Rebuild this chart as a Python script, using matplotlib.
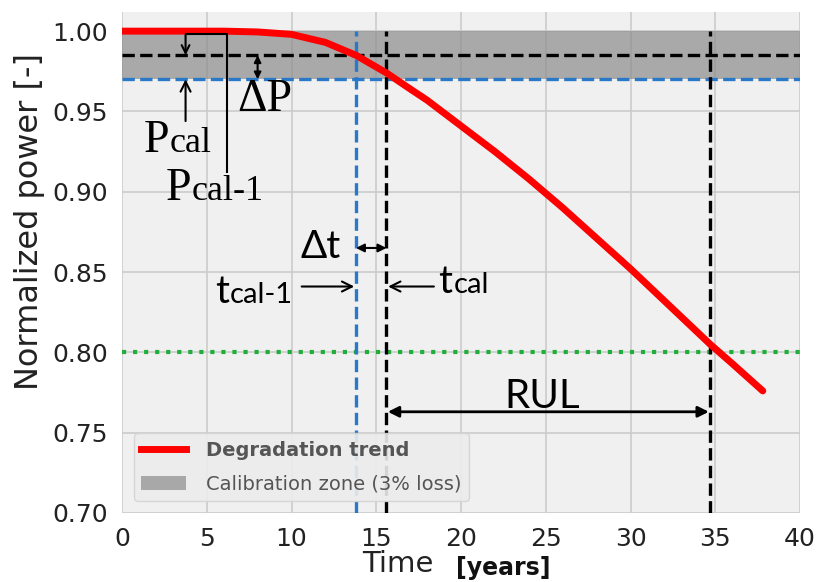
import numpy as np
import matplotlib
matplotlib.use("Agg")
import matplotlib.pyplot as plt
from matplotlib.lines import Line2D
from matplotlib.patches import Patch

# degradation trend
years = [0, 2, 4, 6, 8, 10, 12, 13.8, 15.6, 17, 18, 20, 22, 24, 25, 26, 28, 30, 32, 34.7, 36, 37.8]
power = [1.000, 1.000, 1.000, 1.000, 0.9995, 0.998, 0.993, 0.985, 0.974, 0.964, 0.957, 0.941,
         0.925, 0.908, 0.899, 0.890, 0.871, 0.852, 0.832, 0.805, 0.793, 0.776]

# reference levels / times
zone = [0.97, 1.00]          # calibration zone (3% loss)
p_cal = 0.97
p_cal_prev = 0.985
p_eol = 0.80
t_cal_prev = 13.8
t_cal = 15.6
t_eol = 34.7

xticks = [0, 5, 10, 15, 20, 25, 30, 35, 40]
yticks = [0.70, 0.75, 0.80, 0.85, 0.90, 0.95, 1.00]

serif = ["Liberation Serif", "DejaVu Serif"]
sans = ["Lato", "DejaVu Sans"]

fig = plt.figure(figsize=(8.16, 5.82), dpi=100)
ax = fig.add_axes([0.1495, 0.1186, 0.831, 0.861])
ax.set_facecolor("#f0f0f0")
for s in ax.spines.values():
    s.set_visible(False)
ax.grid(True, color="#cbcbcb", lw=1.2)
ax.set_axisbelow(True)

ax.axhspan(zone[0], zone[1], color="#8c8c8c", alpha=0.7, lw=0, zorder=1)
ax.plot(years, power, color="red", lw=5, solid_capstyle="round", zorder=4)

ax.axhline(p_cal_prev, color="black", ls="--", lw=2.4, zorder=3)
ax.axhline(p_cal, color="#2a78c8", ls="--", lw=2.4, zorder=3)
ax.axhline(p_eol, color="#1fae3a", ls=":", lw=3, zorder=3)
ax.vlines(t_cal_prev, 0.70, 1.0, color="#2a78c8", ls="--", lw=2.4, zorder=3)
ax.vlines([t_cal, t_eol], 0.70, 1.0, color="black", ls="--", lw=2.4, zorder=3)

ax.set_xlim(0, 40)
ax.set_ylim(0.70, 1.012)
ax.set_xticks(xticks)
ax.set_yticks(yticks)
ax.set_yticklabels(["%.2f" % v for v in yticks])
ax.tick_params(length=0, labelsize=18, pad=10, labelcolor="#222222")

# arrows
thin = dict(color="black", lw=1.5)
ax.annotate("", xy=(8.0, p_cal), xytext=(8.0, p_cal_prev),
            arrowprops=dict(arrowstyle="<|-|>", mutation_scale=10, shrinkA=0, shrinkB=0, **thin))
ax.annotate("", xy=(3.75, p_cal), xytext=(3.75, 0.944),
            arrowprops=dict(arrowstyle="->", mutation_scale=18, shrinkA=0, shrinkB=0, **thin))
ax.plot([6.2, 6.2, 3.75], [0.912, 0.9985, 0.9985], color="black", lw=1.5, zorder=5)
ax.annotate("", xy=(3.75, p_cal_prev), xytext=(3.75, 0.9985),
            arrowprops=dict(arrowstyle="->", mutation_scale=14, shrinkA=0, shrinkB=0, **thin))
ax.annotate("", xy=(t_cal_prev, 0.865), xytext=(t_cal, 0.865),
            arrowprops=dict(arrowstyle="<|-|>", mutation_scale=12, shrinkA=0, shrinkB=0, **thin))
ax.annotate("", xy=(t_cal_prev - 0.1, 0.841), xytext=(10.6, 0.841),
            arrowprops=dict(arrowstyle="->", mutation_scale=18, shrinkA=0, shrinkB=0, **thin))
ax.annotate("", xy=(t_cal + 0.1, 0.841), xytext=(18.4, 0.841),
            arrowprops=dict(arrowstyle="->", mutation_scale=18, shrinkA=0, shrinkB=0, **thin))
ax.annotate("", xy=(t_cal, 0.763), xytext=(t_eol, 0.763),
            arrowprops=dict(arrowstyle="<|-|>", mutation_scale=16, shrinkA=1, shrinkB=1, color="black", lw=2))

# labels on the sketch
ax.text(8.45, 0.9505, "ΔP", family=serif, fontsize=33, ha="center", va="baseline")
ax.text(2.77, 0.925, "P", family=serif, fontsize=33, ha="right", va="baseline")
ax.text(2.82, 0.925, "cal", family=serif, fontsize=26, ha="left", va="baseline")
ax.text(4.07, 0.895, "P", family=serif, fontsize=33, ha="right", va="baseline")
ax.text(4.12, 0.895, "cal-1", family=serif, fontsize=26, ha="left", va="baseline")
ax.text(11.7, 0.859, "Δt", family=sans, fontsize=28, ha="center", va="baseline")
ax.text(6.3, 0.831, "t", family=sans, fontsize=28, ha="right", va="baseline")
ax.text(6.35, 0.831, "cal-1", family=sans, fontsize=21, ha="left", va="baseline")
ax.text(19.5, 0.837, "t", family=sans, fontsize=28, ha="right", va="baseline")
ax.text(19.55, 0.837, "cal", family=sans, fontsize=21, ha="left", va="baseline")
ax.text(24.8, 0.7655, "RUL", family=sans, fontsize=29, ha="center", va="baseline")

handles = [Line2D([], [], color="red", lw=5),
           Patch(facecolor="#8c8c8c", alpha=0.7, edgecolor="none")]
leg = ax.legend(handles, ["Degradation trend", "Calibration zone (3% loss)"],
                loc="lower left", fontsize=14, handlelength=2.3, handletextpad=1.0,
                labelspacing=0.75, borderaxespad=0.6, facecolor="#ececec",
                edgecolor="#d4d4d4", framealpha=0.9, fancybox=True)
for t in leg.get_texts():
    t.set_color("#555555")
leg.get_texts()[0].set_fontweight("bold")

# axis titles
fig.text(30 / 816, 1 - 221 / 582, "Normalized power [-]", rotation=90,
         fontsize=23, ha="center", va="center", color="#222222")
fig.text(362 / 816, 1 - 572 / 582, "Time", fontsize=21, ha="left", va="baseline", color="#222222")
fig.text(456 / 816, 1 - 575 / 582, "[years]", fontsize=17, fontweight="bold",
         ha="left", va="baseline", color="#111111")

fig.savefig("out.png", dpi=100, facecolor="white")
